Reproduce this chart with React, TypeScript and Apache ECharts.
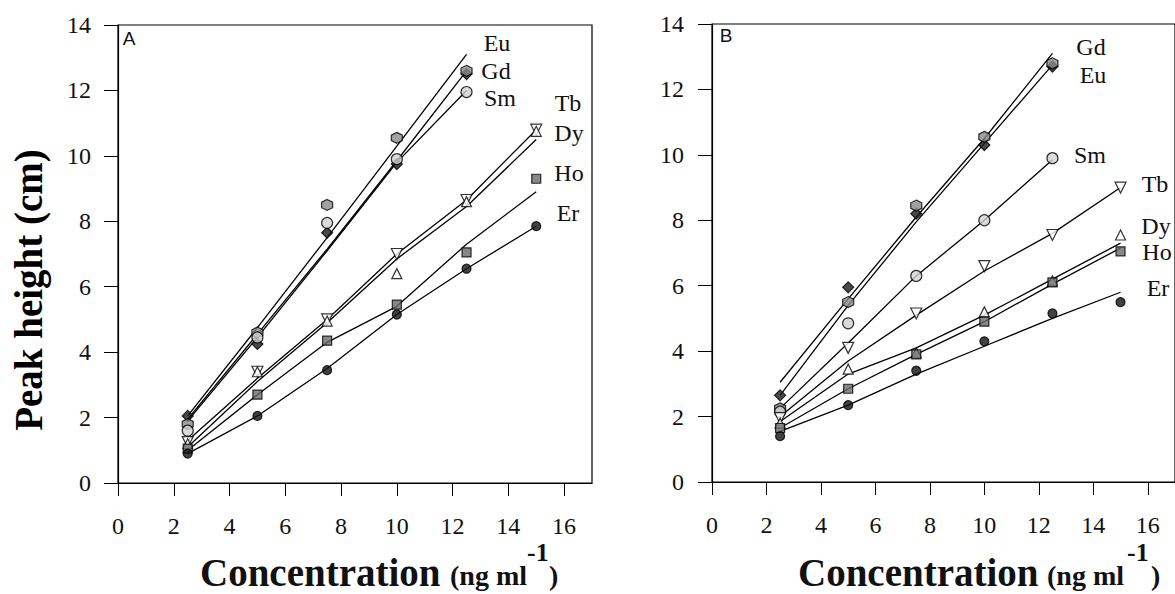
import React, { useEffect, useRef } from "react";
import * as echarts from "echarts";

// ---- data ----
const CONC_SHORT = [2.5, 5, 7.5, 10, 12.5];
const CONC_LONG = [2.5, 5, 7.5, 10, 12.5, 15];
const X_TICKS = [0, 2, 4, 6, 8, 10, 12, 14, 16];
const Y_TICKS = [0, 2, 4, 6, 8, 10, 12, 14];

// Panel A measured points
const A_EU = [2.05, 4.25, 7.65, 9.75, 12.5];
const A_GD = [1.8, 4.6, 8.5, 10.55, 12.6];
const A_SM = [1.6, 4.45, 7.95, 9.9, 11.95];
const A_TB = [1.25, 3.4, 5.0, 7.0, 8.65, 10.8];
const A_DY = [1.2, 3.4, 4.95, 6.4, 8.6, 10.75];
const A_HO = [1.05, 2.7, 4.35, 5.45, 7.05, 9.3];
const A_ER = [0.9, 2.05, 3.45, 5.15, 6.55, 7.85];
// Panel A fitted lines
const A_EU_FIT = [2.05, 4.75, 7.5, 10.3, 13.1];
const A_GD_FIT = [1.95, 4.55, 7.15, 9.85, 12.6];
const A_SM_FIT = [1.9, 4.45, 7.1, 9.8, 12.0];
const A_TB_FIT = [1.3, 3.2, 5.0, 7.0, 8.65, 10.8];
const A_DY_FIT = [1.1, 3.1, 4.9, 6.85, 8.45, 10.5];
const A_HO_FIT = [1.0, 2.7, 4.3, 5.4, 7.3, 8.9];
const A_ER_FIT = [0.9, 2.05, 3.5, 5.15, 6.55, 7.85];

// Panel B measured points
const B_EU = [2.65, 5.95, 8.2, 10.3, 12.7];
const B_GD = [2.25, 5.5, 8.45, 10.55, 12.8];
const B_SM = [2.15, 4.85, 6.3, 8.0, 9.9];
const B_TB = [1.95, 4.1, 5.15, 6.6, 7.55, 9.0];
const B_DY = [1.8, 3.45, 3.95, 5.2, 6.15, 7.55];
const B_HO = [1.65, 2.85, 3.9, 4.9, 6.1, 7.05];
const B_ER = [1.4, 2.35, 3.4, 4.3, 5.15, 5.5];
// Panel B fitted lines
const B_GD_FIT = [3.05, 5.6, 8.1, 10.5, 13.1];
const B_EU_FIT = [2.65, 5.4, 7.95, 10.35, 12.75];
const B_SM_FIT = [2.25, 4.25, 6.3, 8.0, 9.85];
const B_TB_FIT = [2.0, 3.7, 5.1, 6.45, 7.6, 9.0];
const B_DY_FIT = [1.85, 3.3, 4.1, 5.1, 6.2, 7.3];
const B_HO_FIT = [1.65, 2.85, 3.9, 4.9, 6.05, 7.15];
const B_ER_FIT = [1.55, 2.35, 3.3, 4.15, 5.0, 5.8];

const ELEMENTS = ["Eu", "Gd", "Sm", "Tb", "Dy", "Ho", "Er"];

// ---- styles ----
const SERIF = "Liberation Serif";
const SANS = "Liberation Sans";
const HEX = "path://M5,0 L9.33,2.5 L9.33,7.5 L5,10 L0.67,7.5 L0.67,2.5 Z";
const MARK: Record<string, any> = {
  Eu: { symbol: "diamond", size: 11, rotate: 0, color: "#1c1c1c" },
  Gd: { symbol: HEX, size: 11, rotate: 0, color: "#8a8a8a" },
  Sm: { symbol: "circle", size: 11, rotate: 0, color: "#d2d2d2" },
  Tb: { symbol: "triangle", size: 11, rotate: 180, color: "#ffffff" },
  Dy: { symbol: "triangle", size: 10, rotate: 0, color: "#ffffff" },
  Ho: { symbol: "rect", size: 9, rotate: 0, color: "#6a6a6a" },
  Er: { symbol: "circle", size: 9, rotate: 0, color: "#111111" },
};

const pairs = (xs: number[], ys: number[]) => ys.map((y, i) => [xs[i], y]);

function seriesFor(idx: number, el: string, xs: number[], pts: number[], fit: number[]) {
  const m = MARK[el];
  return [
    {
      type: "line",
      name: el + " fit " + idx,
      xAxisIndex: idx,
      yAxisIndex: idx,
      data: pairs(xs, fit),
      showSymbol: false,
      symbol: "none",
      lineStyle: { color: "#000", width: 1.3 },
      z: 2,
    },
    {
      type: "scatter",
      name: el + " " + idx,
      xAxisIndex: idx,
      yAxisIndex: idx,
      data: pairs(xs, pts),
      symbol: m.symbol,
      symbolSize: m.size,
      symbolRotate: m.rotate,
      itemStyle: { color: m.color, borderColor: "#000", borderWidth: 1.2 },
      z: 3,
    },
  ];
}

const tickLabel = (margin: number) => ({
  show: true,
  margin,
  fontSize: 24,
  fontFamily: SERIF,
  fontWeight: "normal",
  color: "#111",
  textStyle: { fontSize: 24, fontFamily: SERIF, color: "#111" },
});

function axisX(idx: number) {
  return {
    type: "value",
    gridIndex: idx,
    min: 0,
    max: 17,
    interval: 2,
    axisLine: { show: true, onZero: false, lineStyle: { color: "#000", width: 1.2 } },
    axisTick: { show: true, inside: false, length: 13, customValues: X_TICKS, lineStyle: { color: "#000", width: 1 } },
    axisLabel: { ...tickLabel(31), showMaxLabel: false, formatter: (v: number) => (X_TICKS.includes(v) ? String(v) : "") },
    splitLine: { show: false },
  };
}

function axisY(idx: number, margin: number) {
  return {
    type: "value",
    gridIndex: idx,
    min: 0,
    max: 14,
    interval: 2,
    axisLine: { show: true, onZero: false, lineStyle: { color: "#000", width: 1.2 } },
    axisTick: { show: true, inside: false, length: 14, customValues: Y_TICKS, lineStyle: { color: "#000", width: 1 } },
    axisLabel: { ...tickLabel(margin), formatter: (v: number) => (Y_TICKS.includes(v) ? String(v) : "") },
    splitLine: { show: false },
  };
}

function txt(text: string, x: number, y: number, size: number, opts: any = {}) {
  return {
    type: "text",
    x,
    y,
    style: {
      text,
      fill: "#111",
      fontSize: size,
      fontFamily: opts.family || SERIF,
      fontWeight: opts.weight || "normal",
      align: opts.align || "center",
      verticalAlign: "middle",
    },
    z: 10,
  };
}

// x title pieces: left edges of "Concentration", "(ng ml", "-1", ")"
function xTitle(c: number, p: number, s: number, r: number) {
  const b = { weight: "bold", align: "left" };
  return [
    txt("Concentration", c, 572, 39, b),
    txt("(ng ml", p, 575, 28, b),
    txt("-1", s, 552, 26, b),
    txt(")", r, 575, 28, b),
  ];
}

export default function App() {
  const ref = useRef<HTMLDivElement>(null);
  useEffect(() => {
    if (!ref.current) return;
    const chart = echarts.init(ref.current, undefined, { renderer: "svg" });

    const aPts = [A_EU, A_GD, A_SM, A_TB, A_DY, A_HO, A_ER];
    const aFit = [A_EU_FIT, A_GD_FIT, A_SM_FIT, A_TB_FIT, A_DY_FIT, A_HO_FIT, A_ER_FIT];
    const bPts = [B_EU, B_GD, B_SM, B_TB, B_DY, B_HO, B_ER];
    const bFit = [B_EU_FIT, B_GD_FIT, B_SM_FIT, B_TB_FIT, B_DY_FIT, B_HO_FIT, B_ER_FIT];

    const series: any[] = [];
    ELEMENTS.forEach((el, i) => {
      const xs = i < 3 ? CONC_SHORT : CONC_LONG;
      series.push(...seriesFor(0, el, xs, aPts[i], aFit[i]));
      series.push(...seriesFor(1, el, xs, bPts[i], bFit[i]));
    });

    chart.setOption({
      animation: false,
      backgroundColor: "#fff",
      textStyle: { fontFamily: SERIF },
      grid: [
        { left: 118, top: 25, width: 474, height: 458, show: true, borderColor: "#000", borderWidth: 1.2 },
        { left: 712, top: 24, width: 471, height: 458, show: true, borderColor: "#000", borderWidth: 1.2 },
      ],
      xAxis: [axisX(0), axisX(1)],
      yAxis: [axisY(0, 27), axisY(1, 28)],
      series,
      graphic: [
        {
          type: "text",
          x: 28,
          y: 290,
          rotation: Math.PI / 2,
          style: { text: "Peak height (cm)", fill: "#000", fontSize: 39, fontWeight: "bold", fontFamily: SERIF, align: "center", verticalAlign: "middle" },
          z: 10,
        },
        ...xTitle(200, 450, 527, 549),
        ...xTitle(798, 1047, 1127, 1151),
        txt("A", 129, 38, 19, { family: SANS }),
        txt("B", 726, 35, 19, { family: SANS }),
        txt("Eu", 497, 43, 24),
        txt("Gd", 496, 71, 24),
        txt("Sm", 500, 98, 24),
        txt("Tb", 568, 103, 24),
        txt("Dy", 569, 133, 24),
        txt("Ho", 569, 173, 24),
        txt("Er", 568, 213, 24),
        txt("Gd", 1091, 47, 24),
        txt("Eu", 1093, 75, 24),
        txt("Sm", 1090, 155, 24),
        txt("Tb", 1155, 184, 24),
        txt("Dy", 1156, 226, 24),
        txt("Ho", 1157, 252, 24),
        txt("Er", 1158, 288, 24),
      ],
    });
    return () => chart.dispose();
  }, []);

  return (
    <div
      ref={ref}
      style={{ position: "absolute", left: 0, top: 0, width: 1175, height: 594, background: "#fff" }}
    />
  );
}
